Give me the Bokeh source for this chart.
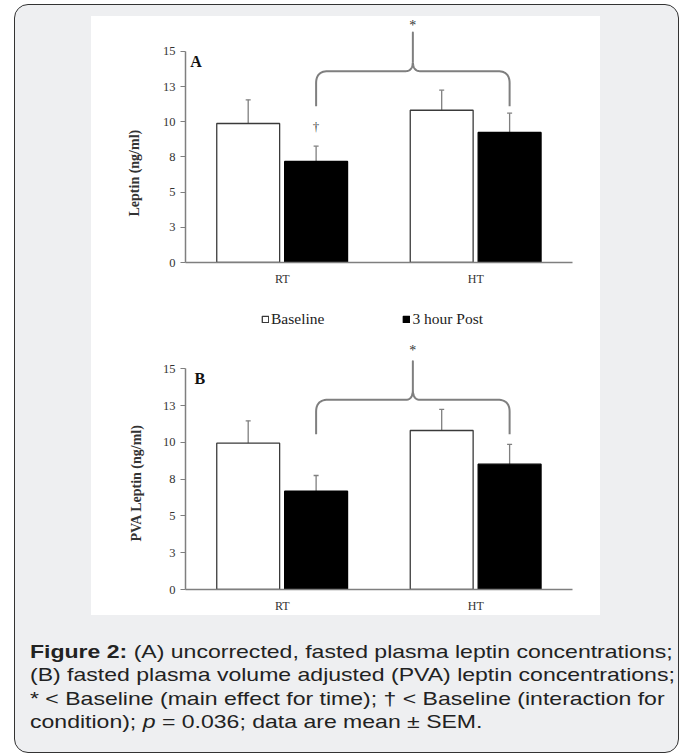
import numpy as np
from bokeh.plotting import figure
from bokeh.models import (Range1d, FixedTicker, CustomJSTickFormatter, Whisker, TeeHead, Label, Title,
                          Legend, LegendItem, ColumnDataSource, Div, Spacer)
from bokeh.core.properties import value
from bokeh.layouts import column, row
from bokeh.embed import file_html
from bokeh.resources import INLINE

# ---------------- data ----------------
categories = ["RT", "HT"]
series_names = ["Baseline", "3 hour Post"]
y_ticks = [0, 2.5, 5, 7.5, 10, 12.5, 15]

# Panel A: Leptin (ng/ml), mean and SEM
leptin_baseline = [9.88, 10.82]
leptin_baseline_sem = [1.68, 1.43]
leptin_post = [7.18, 9.24]
leptin_post_sem = [1.09, 1.37]

# Panel B: PVA Leptin (ng/ml), mean and SEM
pva_baseline = [9.95, 10.81]
pva_baseline_sem = [1.52, 1.43]
pva_post = [6.68, 8.52]
pva_post_sem = [1.07, 1.34]

# significance annotations (data units)
bracket_A = dict(end=11.1, level=13.6, peak=16.35, star=16.85)
bracket_B = dict(end=10.55, level=12.9, peak=15.52, star=16.25)
dagger_A_y = 9.67

SERIF = "Liberation Serif"
GRAY = "#7f7f7f"
FIG_W = 509
BL, BR = 94, 28


def bracket_path(x0, x1, end, level, peak, sx, sy):
    t = np.linspace(0, 1, 14)[:, None]

    def quad(a, b, c):
        a, b, c = np.array(a), np.array(b), np.array(c)
        return (1 - t) ** 2 * a + 2 * (1 - t) * t * b + t ** 2 * c

    rx, ry = 12 / sx, 12 / sy
    cx, cy = 7 / sx, 10 / sy
    xm = (x0 + x1) / 2
    pts = [np.array([[x0, end]]),
           quad([x0, level - ry], [x0, level], [x0 + rx, level]),
           quad([xm - cx, level], [xm, level], [xm, level + cy]),
           np.array([[xm, peak]]),
           quad([xm, level + cy], [xm, level], [xm + cx, level]),
           quad([x1 - rx, level], [x1, level], [x1, level - ry]),
           np.array([[x1, end]])]
    P = np.vstack(pts)
    return P[:, 0], P[:, 1], xm


def make_panel(letter, letter_x, letter_y, ylabel, ylabel_offset, ylabel_standoff,
               base, base_sem, post, post_sem,
               br, height, b_top, b_bottom, y_end, with_legend=False, dagger=None):
    p = figure(width=FIG_W, height=height, x_range=Range1d(0.5, 2.5), y_range=Range1d(0, y_end),
               output_backend="svg", toolbar_location=None,
               min_border_left=BL, min_border_right=BR, min_border_top=b_top, min_border_bottom=b_bottom,
               background_fill_color="white", border_fill_color="white", outline_line_color=None)
    p.grid.visible = False

    xs = np.arange(1, len(categories) + 1)
    src_b = ColumnDataSource(dict(x=xs - 0.176, top=base, upper=np.array(base) + np.array(base_sem)))
    src_p = ColumnDataSource(dict(x=xs + 0.175, top=post, upper=np.array(post) + np.array(post_sem)))
    rb = p.vbar(x="x", top="top", width=0.325, source=src_b, fill_color="white",
                line_color="#3a3a3a", line_width=1.3)
    rp = p.vbar(x="x", top="top", width=0.325, source=src_p, fill_color="black",
                line_color="black", line_width=1.3)
    for src in (src_b, src_p):
        w = Whisker(base="x", lower="top", upper="upper", source=src, line_color=GRAY, line_width=1.3,
                    upper_head=TeeHead(size=5, line_color=GRAY, line_width=1.3), lower_head=None)
        p.add_layout(w)

    # bracket between the two post-exercise bars
    frame_w = FIG_W - BL - BR
    frame_h = height - b_top - b_bottom
    sx = frame_w / 2.0
    sy = frame_h / y_end
    bx, by, xm = bracket_path(xs[0] + 0.175, xs[1] + 0.175, br["end"], br["level"], br["peak"], sx, sy)
    p.line(bx, by, line_color=GRAY, line_width=2, line_join="round")
    p.text(x=[xm], y=[br["star"]], text=["*"], text_font=value(SERIF),
           text_font_size="14px", text_align="center", text_baseline="middle", text_color="#333333")
    if dagger is not None:
        p.text(x=[xs[0] + 0.175], y=[dagger], text=["\u2020"], text_font=value(SERIF),
               text_font_size="13px", text_align="center", text_baseline="middle", text_color="#444444")

    p.add_layout(Label(x=letter_x, y=letter_y, text=letter, text_font=SERIF, text_font_style="bold",
                       text_font_size="16px", text_align="left", text_baseline="middle", text_color="#111111"))

    # y-axis label as a side title, placed from the bottom of the frame
    p.add_layout(Title(text=ylabel, align="left", offset=ylabel_offset, standoff=ylabel_standoff,
                       text_font=SERIF, text_font_style="bold", text_font_size="14px",
                       text_color="#333333"), "left")

    # axes
    p.yaxis.ticker = FixedTicker(ticks=y_ticks)
    p.yaxis.formatter = CustomJSTickFormatter(code="return Math.round(tick).toString();")
    p.yaxis.bounds = (0, 15)
    p.xaxis.ticker = FixedTicker(ticks=[int(v) for v in xs])
    p.xaxis.major_label_overrides = {int(v): c for v, c in zip(xs, categories)}
    for ax in (p.xaxis[0], p.yaxis[0]):
        ax.axis_line_color = GRAY
        ax.axis_line_width = 1.5
        ax.major_tick_line_color = GRAY
        ax.major_tick_line_width = 1.2
        ax.minor_tick_line_color = None
        ax.major_label_text_font = SERIF
        ax.major_label_text_color = "#333333"
    p.yaxis.major_label_text_font_size = "12.5px"
    p.xaxis.major_label_text_font_size = "12px"
    p.yaxis.major_tick_out = 5
    p.yaxis.major_tick_in = 0
    p.yaxis.major_label_standoff = 5
    p.xaxis.major_tick_out = 0
    p.xaxis.major_tick_in = 0
    p.xaxis.major_label_standoff = 9

    if with_legend:
        # location: (px from frame left, px from frame bottom to legend bottom)
        legend = Legend(items=[LegendItem(label=series_names[0], renderers=[rb]),
                               LegendItem(label=series_names[1], renderers=[rp])],
                        orientation="horizontal", location=(76, 261), spacing=78, padding=0, margin=0,
                        label_standoff=2, glyph_width=8, glyph_height=8, label_height=16,
                        border_line_color=None, background_fill_alpha=0, label_text_font=SERIF,
                        label_text_font_size="15.5px", label_text_color="#222222")
        p.add_layout(legend, "center")
    return p


# panel A: frame 18..263 px (245 px at 14.07 px/unit)
figA = make_panel("A", 0.525, 14.26, "Leptin (ng/ml)", 46, 36,
                  leptin_baseline, leptin_baseline_sem, leptin_post, leptin_post_sem,
                  bracket_A, height=287, b_top=1, b_bottom=41, y_end=245 / 14.07, dagger=dagger_A_y)
# panel B: frame 306..590 px (284 px at 14.71 px/unit); legend sits in its top strip
figB = make_panel("B", 0.547, 14.32, "PVA  Leptin (ng/ml)", 48, 32,
                  pva_baseline, pva_baseline_sem, pva_post, pva_post_sem,
                  bracket_B, height=312, b_top=2, b_bottom=26, y_end=284 / 14.71, with_legend=True)

white_block = column(figA, figB, styles={"background-color": "white"})

caption_html = ("<b>Figure 2:</b> (A) uncorrected, fasted plasma leptin concentrations;<br>"
                "(B) fasted plasma volume adjusted (PVA) leptin concentrations;<br>"
                "* &lt; Baseline (main effect for time); \u2020 &lt; Baseline (interaction for<br>"
                "condition); <i>p</i> = 0.036; data are mean \u00b1 SEM.")
caption = Div(text=caption_html, width=520, height=96,
              styles={"font-family": "Liberation Sans, Arial, sans-serif", "font-size": "18.5px",
                      "line-height": "23.4px", "color": "#222222", "white-space": "nowrap",
                      "transform": "scaleX(1.245)", "transform-origin": "0 0"})

card = column(Spacer(height=11),
              row(Spacer(width=76), white_block),
              Spacer(height=20),
              row(Spacer(width=10), caption),
              width=665, height=749,
              styles={"background-color": "#eeeff1", "border": "1.5px solid #333333",
                      "border-radius": "14px", "box-sizing": "border-box"})
root = column(Spacer(height=4), row(Spacer(width=14), card))

open("out.html", "w").write(file_html(root, INLINE))
